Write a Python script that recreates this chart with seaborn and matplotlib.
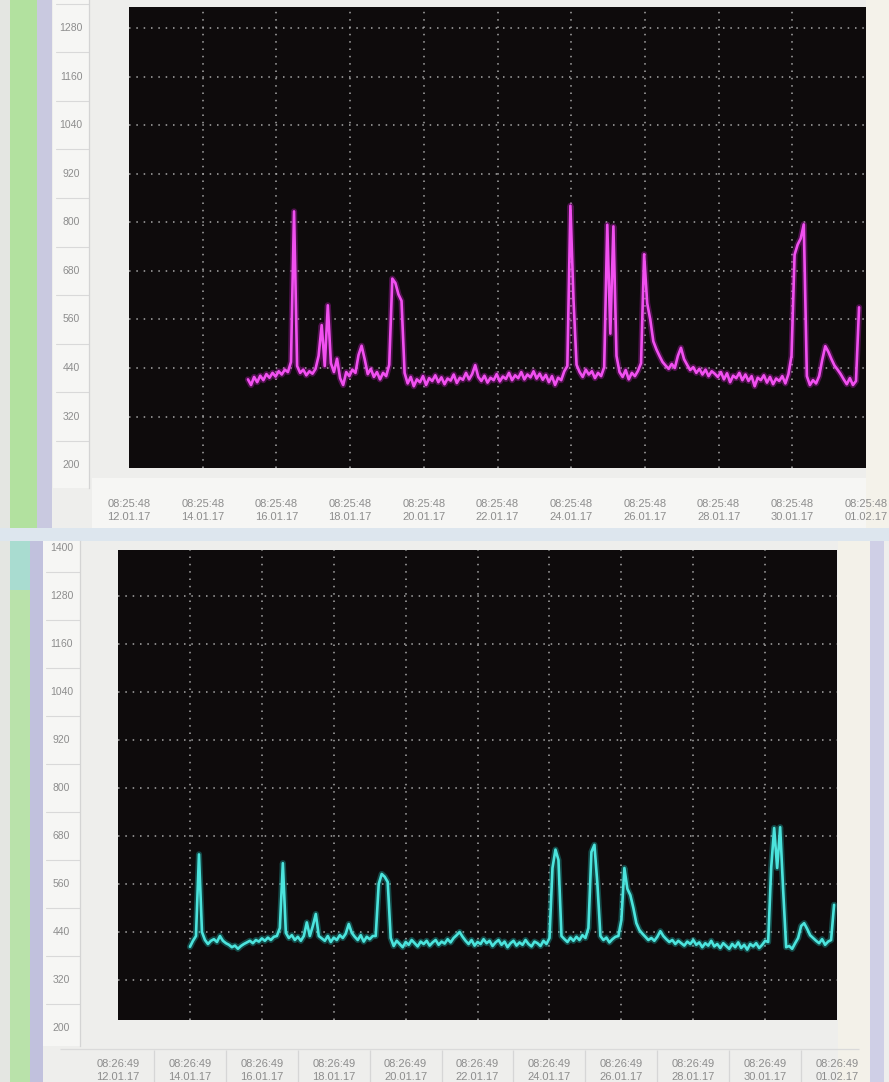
import matplotlib
matplotlib.use("Agg")
import matplotlib.pyplot as plt
import matplotlib.patheffects as pe
from matplotlib.patches import Rectangle
import pandas as pd
import seaborn as sns

# ---------------- data ----------------
x_tick_dates = ["12.01.17", "14.01.17", "16.01.17", "18.01.17", "20.01.17", "22.01.17",
                "24.01.17", "26.01.17", "28.01.17", "30.01.17", "01.02.17"]
top_tick_time = "08:25:48"
bot_tick_time = "08:26:49"

y_ticks_top = [200, 320, 440, 560, 680, 800, 920, 1040, 1160, 1280]
y_ticks_bot = [200, 320, 440, 560, 680, 800, 920, 1040, 1160, 1280, 1400]

top_series_start = "2017-01-15 13:55:00"
bot_series_start = "2017-01-14 08:30:00"
sample_step = "2h"

top_values = [
    412, 398, 418, 405, 421, 410, 425, 416, 428, 419, 432, 424, 436, 430,
    455, 827, 445,
    428, 436, 422, 432, 426, 438,
    470, 546, 445, 595, 452,
    430, 463, 415, 398, 430, 420, 436, 428,
    472, 495, 462,
    425, 438, 418, 430, 412, 428, 420,
    448, 661, 650, 622, 606, 428,
    402, 418, 395, 412, 405, 420, 398, 415, 408, 422,
    405, 417, 400, 414, 409, 424, 403, 416, 411, 428,
    412, 425, 447,
    418, 408, 421, 404, 416, 410, 425, 407, 419, 413,
    428, 410, 422, 415, 430, 412, 424, 417, 432, 414,
    426, 411, 423, 405, 420, 398, 416, 410, 432,
    445, 841, 610, 448,
    430, 418, 436, 424, 432, 415, 428, 420,
    442, 794, 525, 790, 470,
    430, 418, 435, 412, 428, 420, 433,
    452, 721, 600, 560, 506, 486, 470, 455,
    446, 438, 450, 440,
    470, 490, 462,
    448, 435, 442, 428, 438, 424, 436, 420, 432, 426,
    418, 430, 412, 427, 405, 421, 415, 428, 410, 424,
    408, 420, 395, 416, 410, 422, 404, 418, 400, 414,
    408, 420, 402, 425,
    470, 720, 745, 760, 795, 420,
    398, 410, 402,
    420, 460, 494, 480, 462, 446, 436, 425,
    412, 400, 415, 398, 408,
    590,
]

bot_values = [
    403, 418, 430, 634, 440,
    420, 410, 418, 422, 415, 430, 418, 412, 408, 402, 406, 398, 405, 410, 414,
    418, 412, 420, 416, 424, 418, 426, 420, 428, 430,
    450, 612, 438,
    425, 432, 420, 428, 418, 430,
    464, 430, 455, 485, 430,
    424, 418, 430, 415, 426, 420, 432, 425, 436,
    460, 438,
    428, 420, 432, 416, 428, 422, 430,
    430, 560, 585, 578, 565, 425,
    405, 418, 410, 402, 415, 408, 420, 412, 404, 416,
    410, 418, 406, 414, 420, 408, 416, 411, 422, 414,
    425, 432, 440,
    428, 418, 410, 420, 406, 415, 410, 422, 412,
    418, 405, 414, 420, 408, 416, 402, 412, 418, 406,
    414, 408, 420, 410, 404, 416, 412, 405, 418, 410,
    425, 600, 646, 620, 430,
    422, 415, 426, 418, 428, 420, 432, 425,
    450, 640, 658, 560, 430,
    420, 426, 414, 422, 428,
    430, 470, 600, 548, 532, 500, 462, 445, 436,
    428, 420, 425, 418, 428, 442, 430,
    422, 415, 420, 410, 418, 412, 406, 416, 410, 420,
    408, 414, 402, 412, 406, 418, 404, 410, 400, 412,
    405, 398, 410, 402, 414, 400, 408, 396, 410, 404,
    412, 400, 408, 418,
    415, 600, 700, 600, 702, 545, 402,
    405, 398, 412, 425,
    455, 462, 448, 432, 425,
    418, 412, 422, 408, 416,
    420, 508,
]

# ---------------- styling ----------------
sns.set_theme(style="dark")
plt.rcParams["font.family"] = ["Liberation Sans", "DejaVu Sans"]

W, H = 889, 1082
fig = plt.figure(figsize=(W / 100, H / 100), dpi=100)
fig.patch.set_facecolor("#eeeeec")

LABEL_GREY = "#8d8d8d"


def fig_rect(l, t, r, b):
    return [l / W, 1 - b / H, (r - l) / W, (b - t) / H]


def band(l, t, r, b, color):
    fig.add_artist(Rectangle((l / W, 1 - b / H), (r - l) / W, (b - t) / H,
                             transform=fig.transFigure, facecolor=color,
                             edgecolor="none", zorder=-5))


# window chrome around the two panels
band(0, 0, 10, H, "#e4e6e2")
band(10, 0, 37, 540, "#b2e19f")
band(37, 0, 52, 540, "#c9c9e0")
band(0, 528, W, 541, "#dde6ee")
band(10, 541, 30, 590, "#a9dcd0")
band(10, 590, 30, H, "#b9e2aa")
band(30, 541, 43, H, "#c1c1dd")
band(866, 0, W, 528, "#f4f2ea")
band(838, 541, 870, H, "#f3f1e9")
band(870, 541, 884, H, "#cfcfe6")
band(92, 478, 866, 528, "#f6f6f4")


def draw_panel(box, ylim, lab_box, values, series_start, tick_time,
               y_ticks, color, glow, pad, cell_lines):
    l, t, r, b = box
    ax = fig.add_axes(fig_rect(*box))
    ax.set_facecolor("#0e0b0c")

    ticks = pd.to_datetime([f"{d} {tick_time}" for d in x_tick_dates],
                           format="%d.%m.%y %H:%M:%S")
    times = pd.date_range(series_start, periods=len(values), freq=sample_step)

    sns.lineplot(x=times, y=values, ax=ax, color=color, lw=1.9, errorbar=None,
                 path_effects=[pe.Stroke(linewidth=4.4, foreground=glow, alpha=0.35),
                               pe.Normal()])

    ax.set_xlim(ticks[0], ticks[-1])
    ax.set_ylim(*ylim)
    ax.set_xlabel("")
    ax.set_ylabel("")

    ax.set_xticks(ticks)
    ax.set_xticklabels([f"{tick_time}\n{d}" for d in x_tick_dates])
    ax.tick_params(axis="x", length=0, pad=pad, labelsize=8, labelcolor=LABEL_GREY)
    for lab in ax.get_xticklabels():
        lab.set_linespacing(1.35)

    ax.set_yticks([v for v in y_ticks if ylim[0] + 60 < v < ylim[1]])
    ax.set_yticklabels([])
    ax.tick_params(axis="y", length=0)

    ax.grid(True, color="#a8a8a8", lw=1.1, ls=(0, (1, 3.8)))
    xg = ax.get_xgridlines()
    xg[0].set_visible(False)
    xg[-1].set_visible(False)
    for s in ax.spines.values():
        s.set_visible(False)

    # separators between the date/time cells under the plot
    if cell_lines:
        mids = ticks[:-1] + (ticks[1:] - ticks[:-1]) / 2
        frac = lambda py: (b - py) / (b - t)
        ax.vlines(mids, frac(1050), frac(H + 5), transform=ax.get_xaxis_transform(),
                  colors="#d6d6d6", lw=0.9, clip_on=False)
        ax.hlines(frac(1049), -0.08, 1.03, transform=ax.transAxes,
                  colors="#dadada", lw=0.9, clip_on=False)

    # value column on the left, sharing the panel's vertical scale
    ll, lt, lr, lb = lab_box
    la = fig.add_axes(fig_rect(*lab_box))
    la.set_facecolor("#f6f6f4")

    def v_at(py):
        return ylim[1] - (py - t) * (ylim[1] - ylim[0]) / (b - t)

    la.set_ylim(v_at(lb), v_at(lt))
    la.set_xlim(0, 1)
    la.set_xticks([])
    la.set_yticks([])
    for s in ("top", "left", "bottom"):
        la.spines[s].set_visible(False)
    la.spines["right"].set_color("#d4d4d4")
    la.spines["right"].set_linewidth(0.9)
    for v in y_ticks:
        la.text(0.5, v, f"{v}", ha="center", va="center", fontsize=7.5,
                color=LABEL_GREY, clip_on=True)
        la.axhline(v + 60, xmin=0.08, xmax=1.0, color="#d9d9d9", lw=0.8)
    return ax


draw_panel(box=(129, 7, 866, 468), ylim=(193, 1332), lab_box=(53, 0, 89, 488),
           values=top_values, series_start=top_series_start, tick_time=top_tick_time,
           y_ticks=y_ticks_top, color="#f150f0", glow="#c81fc6", pad=22.5,
           cell_lines=False)

draw_panel(box=(118, 550, 837, 1020), ylim=(220, 1395), lab_box=(43, 541, 80, 1046),
           values=bot_values, series_start=bot_series_start, tick_time=bot_tick_time,
           y_ticks=y_ticks_bot, color="#4ce4dd", glow="#1fbdb8", pad=28,
           cell_lines=True)

fig.savefig("out.png", dpi=100, facecolor=fig.get_facecolor())
